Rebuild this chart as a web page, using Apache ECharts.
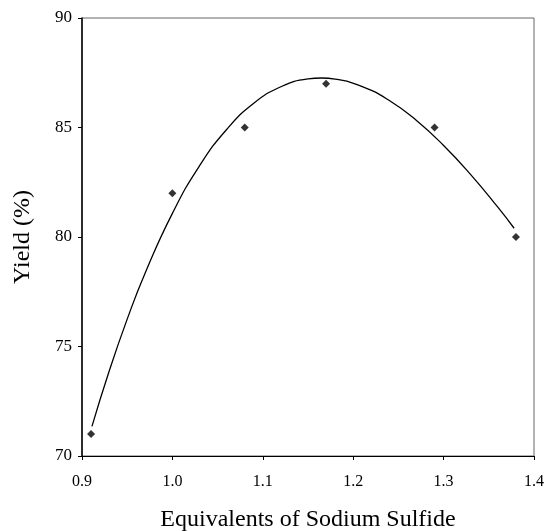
<!DOCTYPE html>
<html>
<head>
<meta charset="utf-8">
<script src="https://cdn.jsdelivr.net/npm/echarts@6/dist/echarts.min.js"></script>
<style>html,body{margin:0;padding:0;background:#fff}#c{width:546px;height:531px}</style>
</head>
<body>
<div id="c"></div>
<script>
// measured points
const equivalents = [0.91, 1.00, 1.08, 1.17, 1.29, 1.38];
const yields = [71, 82, 85, 87, 85, 80];
// trend curve
const curveX = [0.911, 0.93, 0.95, 0.97, 1.00, 1.03, 1.06, 1.09, 1.12, 1.15, 1.165, 1.18, 1.21, 1.24, 1.27, 1.30, 1.33, 1.36, 1.378];
const curveY = [71.35, 73.87, 76.25, 78.37, 81.08, 83.25, 84.91, 86.11, 86.86, 87.22, 87.26, 87.21, 86.87, 86.23, 85.32, 84.18, 82.85, 81.36, 80.4];
const xTicks = [0.9, 1.0, 1.1, 1.2, 1.3, 1.4];
const yTicks = [70, 75, 80, 85, 90];

const font = 'Liberation Serif';
const chart = echarts.init(document.getElementById('c'), null, {renderer: 'canvas'});
chart.setOption({
  animation: false,
  backgroundColor: '#fff',
  grid: {left: 82, right: 12, top: 18, bottom: 75, outerBoundsMode: 'none', containLabel: false,
         show: true, borderColor: '#666', borderWidth: 1, backgroundColor: 'transparent'},
  xAxis: {
    type: 'value', min: xTicks[0], max: xTicks[xTicks.length - 1], interval: 0.1,
    name: 'Equivalents of Sodium Sulfide', nameLocation: 'middle', nameGap: 52,
    nameTextStyle: {fontFamily: font, fontSize: 24, color: '#000'},
    axisLine: {lineStyle: {color: '#000', width: 1}},
    axisTick: {show: true, inside: false, length: 4, lineStyle: {color: '#000'}},
    axisLabel: {fontFamily: font, fontSize: 16, color: '#000', margin: 18, formatter: v => v.toFixed(1)},
    splitLine: {show: false}
  },
  yAxis: {
    type: 'value', min: yTicks[0], max: yTicks[yTicks.length - 1], interval: 5,
    name: 'Yield (%)', nameLocation: 'middle', nameGap: 47,
    nameTextStyle: {fontFamily: font, fontSize: 24, color: '#000'},
    axisLine: {show: true, lineStyle: {color: '#000', width: 1.5}},
    axisTick: {show: true, inside: false, length: 4, lineStyle: {color: '#000'}},
    axisLabel: {fontFamily: font, fontSize: 17, color: '#000', margin: 10},
    splitLine: {show: false}
  },
  series: [
    {
      type: 'line', data: curveX.map((x, i) => [x, curveY[i]]), smooth: true,
      showSymbol: false, lineStyle: {color: '#000', width: 1.3}, z: 2
    },
    {
      type: 'scatter', data: equivalents.map((x, i) => [x, yields[i]]),
      symbol: 'diamond', symbolSize: 8, itemStyle: {color: '#000'}, z: 3
    }
  ]
});
</script>
</body>
</html>
